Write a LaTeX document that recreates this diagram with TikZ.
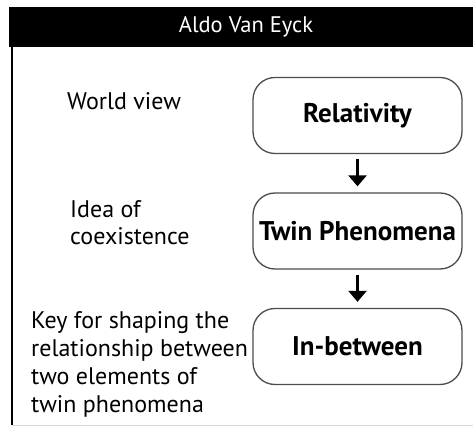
\documentclass[tikz,border=0pt]{standalone}
\usepackage{fontspec}
\setmainfont{PT Sans}
\usetikzlibrary{arrows.meta}

\tikzset{
  stage/.style={draw=black!70, line width=1.3pt, rounded corners=22pt,
    minimum width=209pt, minimum height=76pt, inner sep=0pt,
    font=\fontsize{27}{30}\selectfont\bfseries},
  role/.style={anchor=base west, inner sep=0pt, align=left,
    font=\fontsize{24}{28}\selectfont},
  flow/.style={line width=2.6pt, -{Triangle[width=18pt,length=11pt]},
    shorten <=5pt, shorten >=6pt}
}

\begin{document}
\begin{tikzpicture}[x=1pt,y=-1pt]
  \useasboundingbox (0,0) rectangle (473,427);
  % header bar
  \fill[black] (9,7) rectangle (473,47);
  \node[text=white, font=\fontsize{22.5}{24}\selectfont] (title) at (246,27) {Aldo Van Eyck};
  \draw[line width=1.2pt] (12,47) -- (12,425);
  \draw[black!15] (12,425.5) -- (473,425.5);
  % stages
  \node[stage] (rel) at (357.5,115.5) {Relativity};
  \node[stage] (twin) at (357.5,231) {Twin Phenomena};
  \node[stage] (inb) at (357.5,346.5) {In-between};
  \draw[flow] (rel) -- (twin);
  \draw[flow] (twin) -- (inb);
  % roles (base = last line)
  \node[role] (view) at (67,110) {World view};
  \node[role] (idea) at (70,245) {Idea of\\coexistence};
  \node[role] (key) at (31,412) {Key for shaping the\\relationship between\\two elements of\\twin phenomena};
\end{tikzpicture}
\end{document}
